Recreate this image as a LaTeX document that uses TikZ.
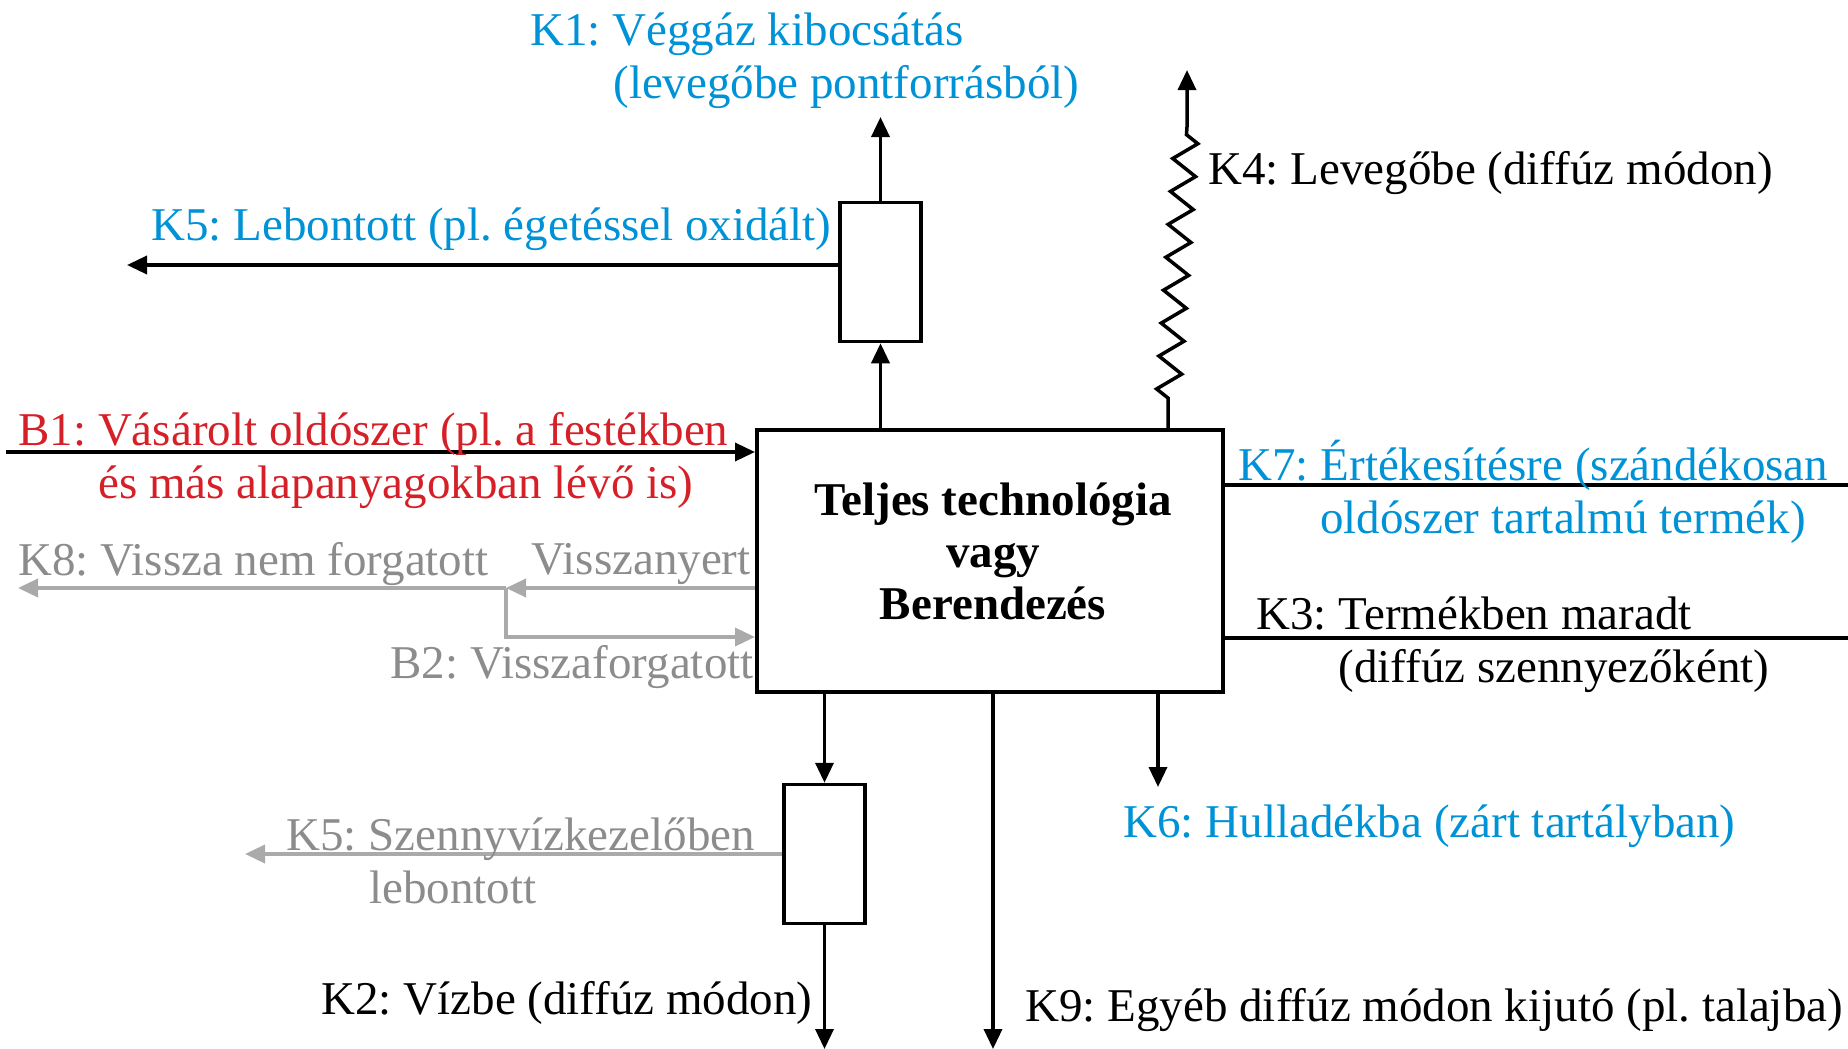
\documentclass[tikz,border=0pt]{standalone}
\usepackage{fontspec}
\setmainfont{Liberation Serif}
\frenchspacing
\usetikzlibrary{positioning, arrows.meta, decorations.pathmorphing}
\definecolor{kek}{RGB}{0,146,214}
\definecolor{piros}{RGB}{214,32,40}
\definecolor{szurke}{RGB}{140,140,140}
\definecolor{vszurke}{RGB}{170,170,170}
\tikzstyle{mainbox}  = [rectangle, draw=black, line width=2pt, minimum width=233pt, minimum height=131pt]
\tikzstyle{boxtxt}   = [inner sep=0pt, align=center, font=\fontsize{23.5}{26}\selectfont\bfseries]
\tikzstyle{smallbox} = [rectangle, draw=black, line width=1.75pt, minimum width=40.5pt, minimum height=69.5pt, inner sep=0pt]
\tikzstyle{flow}     = [->, line width=1.75pt, draw=black]
\tikzstyle{grayflow} = [->, line width=1.75pt, draw=vszurke]
\tikzstyle{plain}    = [line width=1.75pt, draw=black]
\tikzstyle{txt}      = [inner sep=0pt, align=left, font=\fontsize{23.5}{26.5}\selectfont]
\tikzstyle{bluetxt}  = [txt, text=kek]
\tikzstyle{redtxt}   = [txt, text=piros]
\tikzstyle{graytxt}  = [txt, text=szurke]

\begin{document}
\begin{tikzpicture}[x=0.5pt, y=-0.5pt, >={Triangle[length=10pt, width=9pt]}]
            \useasboundingbox (0,0) rectangle (1848,1049);
            % boxes
            \node[mainbox]  (tech)    at (990,561)   {};
            \node[boxtxt]   (techtxt) at (993,551)   {Teljes technológia\\vagy\\Berendezés};
            \node[smallbox] (egeto)   at (880.5,272) {};
            \node[smallbox] (szvk)    at (824.5,854) {};

            % free ends
            \coordinate (k1end)   at (880.5,117);
            \coordinate (k5end)   at (127,265);
            \coordinate (k4start) at (1168,398);
            \coordinate (k4top)   at (1187,127);
            \coordinate (k4end)   at (1187,70);
            \coordinate (b1start) at (6,452);
            \coordinate (k7end)   at (1848,485);
            \coordinate (k3end)   at (1848,638);
            \coordinate (k8end)   at (18,588);
            \coordinate (branch)  at (506,588);
            \coordinate (b2turn)  at (506,637);
            \coordinate (k2end)   at (824.5,1049);
            \coordinate (k9end)   at (993,1049);
            \coordinate (k6end)   at (1158,787);
            \coordinate (k5bend)  at (245,854);

            % connectors
            \draw[flow] (tech.north -| egeto) -- (egeto.south);
            \draw[flow] (egeto.north) -- (k1end);
            \draw[flow] (egeto.west |- k5end) -- (k5end);
            \draw[flow] (tech.north -| k4start) -- (k4start)
                decorate[decoration={zigzag, segment length=16.5pt, amplitude=6pt}] {-- (k4top)} -- (k4end);
            \draw[flow] (b1start) -- (b1start -| tech.west);
            \draw[plain] (tech.east |- k7end) -- (k7end);
            \draw[plain] (tech.east |- k3end) -- (k3end);
            \draw[grayflow] (tech.west |- branch) -- (branch);
            \draw[grayflow] (branch) -- (k8end);
            \draw[grayflow] (branch) -- (b2turn) -- (b2turn -| tech.west);
            \draw[flow] (tech.south -| szvk) -- (szvk.north);
            \draw[flow] (szvk.south) -- (k2end);
            \draw[flow] (tech.south -| k9end) -- (k9end);
            \draw[flow] (tech.south -| k6end) -- (k6end);
            \draw[grayflow] (szvk.west) -- (k5bend);

            % labels
            \node[bluetxt, anchor=west] (k1lab)  at (530,61)   {K1: Véggáz kibocsátás\\\hspace*{41.5pt}(levegőbe pontforrásból)};
            \node[bluetxt, anchor=west] (k5lab)  at (151,229)  {K5: Lebontott (pl. égetéssel oxidált)};
            \node[txt, anchor=west]     (k4lab)  at (1208,173) {K4: Levegőbe (diffúz módon)};
            \node[redtxt, anchor=west]  (b1lab)  at (18,460.5) {B1: Vásárolt oldószer (pl. a festékben\\\hspace*{40pt}és más alapanyagokban lévő is)};
            \node[bluetxt, anchor=west] (k7lab)  at (1238,491.5) {K7: Értékesítésre (szándékosan\\\hspace*{41pt}oldószer tartalmú termék)};
            \node[graytxt, anchor=west] (k8lab)  at (18,564)   {K8: Vissza nem forgatott};
            \node[graytxt, anchor=east] (vnlab)  at (751,564)  {Visszanyert};
            \node[graytxt, anchor=east] (b2lab)  at (754,667)  {B2: Visszaforgatott};
            \node[txt, anchor=west]     (k3lab)  at (1256,645) {K3: Termékben maradt\\\hspace*{41pt}(diffúz szennyezőként)};
            \node[bluetxt, anchor=west] (k6lab)  at (1123,826) {K6: Hulladékba (zárt tartályban)};
            \node[graytxt, anchor=west] (k5blab) at (286,861)  {K5: Szennyvízkezelőben\\\hspace*{41.5pt}lebontott};
            \node[txt, anchor=east]     (k2lab)  at (813,1003) {K2: Vízbe (diffúz módon)};
            \node[txt, anchor=west]     (k9lab)  at (1025,1010) {K9: Egyéb diffúz módon kijutó (pl. talajba)};
\end{tikzpicture}
\end{document}
